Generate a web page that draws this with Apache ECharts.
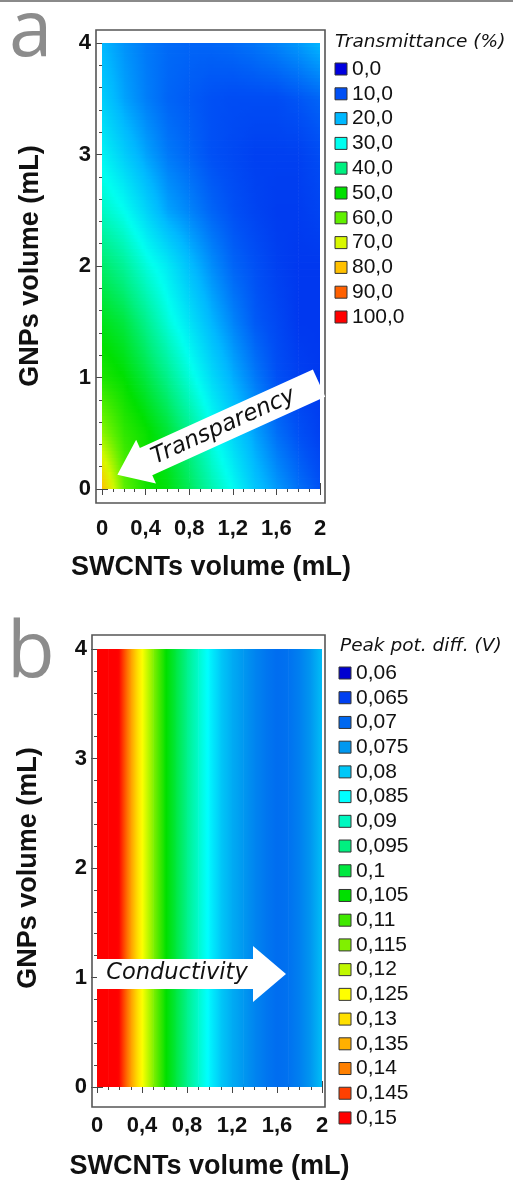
<!DOCTYPE html>
<html><head><meta charset="utf-8">
<script src="https://cdn.jsdelivr.net/npm/echarts@6/dist/echarts.min.js"></script>
<style>html,body{margin:0;padding:0;background:#fff;}#c{width:513px;height:1181px;}</style>
</head><body><div id="c"></div>
<script>
// ---------------- DATA ----------------
// Panel a: Transmittance (%) sampled on a grid (rows: GNPs volume, cols: SWCNTs volume)
const swcntA = [0, 0.2, 0.4, 0.6, 0.8, 1.0, 1.2, 1.4, 1.6, 1.8, 2.0];
const gnpA = [0, 0.5, 1, 1.5, 2, 2.5, 3, 3.5, 4];
const transmittance = [
  [80, 60, 52, 49, 43, 36, 29.5, 22, 17, 13, 10],      // GNPs 0
  [64, 55, 51, 46, 39, 31, 24, 18, 13, 10, 8],          // 0.5
  [53, 50, 45, 39, 32, 25, 19, 14, 10, 8, 7],           // 1
  [48, 45, 39, 32, 26, 20, 15, 11, 9, 7, 7],            // 1.5
  [42, 38, 32, 27, 21, 16, 12, 10, 8, 7, 7],            // 2
  [34, 30, 24, 18, 15, 12, 10, 8.5, 7.5, 7.5, 8.5],     // 2.5
  [28.5, 23, 18, 14, 12, 10, 9, 8, 8, 8, 9.5],          // 3
  [23, 18, 14.5, 12, 11, 10, 9.5, 9.5, 9.5, 10.5, 12],  // 3.5
  [20, 16.5, 14, 12.5, 12, 12, 12.5, 13.5, 15, 17, 20]  // 4
];
// Panel b: Peak potential difference (V), varies with SWCNTs volume only
const swcntB = [0, 0.1, 0.2, 0.3, 0.4, 0.5, 0.6, 0.7, 0.8, 0.9, 1.0, 1.1, 1.2, 1.3, 1.4, 1.5, 1.6, 1.7, 1.8, 1.9, 2.0];
const gnpB = [0, 4];
const peakDiff = [0.156, 0.154, 0.149, 0.137, 0.125, 0.115, 0.106, 0.100, 0.094, 0.089, 0.084, 0.080, 0.077, 0.075, 0.073, 0.0715, 0.0705, 0.071, 0.0725, 0.075, 0.079];

// Legends
const legendAValues = [0, 10, 20, 30, 40, 50, 60, 70, 80, 90, 100];
const legendALabels = ['0,0', '10,0', '20,0', '30,0', '40,0', '50,0', '60,0', '70,0', '80,0', '90,0', '100,0'];
const legendAColors = ['#0000e0', '#0050f5', '#00b8ff', '#00fff0', '#00f080', '#00e000', '#60f000', '#d8f800', '#ffc000', '#ff6000', '#ff0000'];
const legendBValues = [0.06, 0.065, 0.07, 0.075, 0.08, 0.085, 0.09, 0.095, 0.1, 0.105, 0.11, 0.115, 0.12, 0.125, 0.13, 0.135, 0.14, 0.145, 0.15];
const legendBLabels = ['0,06', '0,065', '0,07', '0,075', '0,08', '0,085', '0,09', '0,095', '0,1', '0,105', '0,11', '0,115', '0,12', '0,125', '0,13', '0,135', '0,14', '0,145', '0,15'];
const legendBColors = ['#0000d0', '#0040f0', '#0068f0', '#0098f0', '#00c8f8', '#00ffff', '#00f8c0', '#00f080', '#00e840', '#00e000', '#40e800', '#80f000', '#c0f800', '#ffff00', '#ffe000', '#ffb000', '#ff8000', '#ff4000', '#ff0000'];

// Axis ticks / titles
const xTickLabels = ['0', '0,4', '0,8', '1,2', '1,6', '2'];
const yTickLabels = ['0', '1', '2', '3', '4'];
const xTitle = 'SWCNTs volume (mL)';
const yTitle = 'GNPs volume (mL)';

// ---------------- helpers ----------------
function colorAt(v, vals, cols) {
  if (v <= vals[0]) return cols[0];
  for (let k = 1; k < vals.length; k++) {
    if (v <= vals[k]) {
      const t = (v - vals[k - 1]) / (vals[k] - vals[k - 1]);
      return echarts.color.lerp(t, [cols[k - 1], cols[k]]);
    }
  }
  return cols[cols.length - 1];
}
const colA = v => colorAt(v, legendAValues, legendAColors);
const colB = v => colorAt(v, legendBValues, legendBColors);
function grad(vl, vr, cf) {
  const stops = [];
  const M = 6;
  for (let m = 0; m <= M; m++) {
    const f = m / M;
    stops.push({ offset: f, color: cf(vl + (vr - vl) * f) });
  }
  return { type: 'linear', x: 0, y: 0, x2: 1, y2: 0, colorStops: stops };
}

const cellsA = [];
for (let j = 0; j < gnpA.length - 1; j++)
  for (let i = 0; i < swcntA.length - 1; i++)
    cellsA.push([swcntA[i], gnpA[j], swcntA[i + 1], gnpA[j + 1], i, j]);
const cellsB = [];
for (let i = 0; i < swcntB.length - 1; i++)
  cellsB.push([swcntB[i], gnpB[0], swcntB[i + 1], gnpB[1], i]);

function renderA(params, api) {
  const i = api.value(4), j = api.value(5);
  const v00 = transmittance[j][i], v10 = transmittance[j][i + 1];
  const v01 = transmittance[j + 1][i], v11 = transmittance[j + 1][i + 1];
  const p0 = api.coord([api.value(0), api.value(1)]);
  const p1 = api.coord([api.value(2), api.value(3)]);
  const x0 = p0[0], x1 = p1[0], yb = p0[1], yt = p1[1];
  const N = 16, H = (yb - yt) / N;
  const children = [];
  for (let s = 0; s < N; s++) {
    const t = (s + 0.5) / N;
    const vl = v00 + (v01 - v00) * t, vr = v10 + (v11 - v10) * t;
    children.push({
      type: 'rect',
      shape: { x: x0, y: yb - H * (s + 1) - 0.4, width: x1 - x0 + 0.6, height: H + 0.8 },
      style: { fill: grad(vl, vr, colA) }
    });
  }
  return { type: 'group', children };
}
function renderB(params, api) {
  const i = api.value(4);
  const p0 = api.coord([api.value(0), api.value(1)]);
  const p1 = api.coord([api.value(2), api.value(3)]);
  return {
    type: 'rect',
    shape: { x: p0[0], y: p1[1], width: p1[0] - p0[0] + 0.6, height: p0[1] - p1[1] },
    style: { fill: grad(peakDiff[i], peakDiff[i + 1], colB) }
  };
}

// ---------------- layout ----------------
const FONT = "'Liberation Sans', Arial, sans-serif";
const HAND = "'DejaVu Sans', sans-serif";
const AX = '#454545';
const gridA = { left: 102, top: 43, width: 218, height: 446 };
const gridB = { left: 97, top: 649, width: 225, height: 444 };
const offA = { b: 14, t: 13, l: 6, r: 5 };
const offB = { b: 14, t: 14, l: 5, r: 3 };

const tick = { show: true, inside: true, length: 6, lineStyle: { color: AX, width: 1 } };
function minor(n) { return { show: true, splitNumber: n, length: 3, lineStyle: { color: AX, width: 1 } }; }
const titleStyle = { fontFamily: FONT, fontWeight: 'bold', fontSize: 27, color: '#111' };
const tickLabelStyle = { fontFamily: FONT, fontWeight: 'bold', fontSize: 22, color: '#111' };

function xAxesFor(gi, off, gap, lm) {
  return [
    { gridIndex: gi, type: 'value', min: 0, max: 2, interval: 0.4, position: 'bottom', offset: off.b,
      name: xTitle, nameLocation: 'middle', nameGap: gap, nameTextStyle: titleStyle,
      axisLine: { show: false }, axisTick: tick, minorTick: minor(4),
      splitLine: { show: false }, minorSplitLine: { show: false },
      axisLabel: Object.assign({ formatter: (v, idx) => xTickLabels[idx], margin: lm }, tickLabelStyle) },
    { gridIndex: gi, type: 'value', min: 0, max: 2, interval: 0.4, position: 'top', offset: off.t,
      axisLine: { show: false }, axisTick: tick, minorTick: minor(4),
      splitLine: { show: false }, axisLabel: { show: false } }
  ];
}
function yAxesFor(gi, off, gap) {
  return [
    { gridIndex: gi, type: 'value', min: 0, max: 4, interval: 1, position: 'left', offset: off.l,
      name: yTitle, nameLocation: 'middle', nameGap: gap, nameRotate: 90, nameTextStyle: titleStyle,
      axisLine: { show: false }, axisTick: tick, minorTick: minor(5),
      splitLine: { show: false }, minorSplitLine: { show: false },
      axisLabel: Object.assign({ formatter: (v, idx) => yTickLabels[idx], margin: 5 }, tickLabelStyle) },
    { gridIndex: gi, type: 'value', min: 0, max: 4, interval: 1, position: 'right', offset: off.r,
      axisLine: { show: false }, axisTick: tick, minorTick: minor(5),
      splitLine: { show: false }, axisLabel: { show: false } }
  ];
}

function frame(g, off) {
  return { type: 'rect', silent: true, z: 10,
    shape: { x: g.left - off.l, y: g.top - off.t, width: g.width + off.l + off.r, height: g.height + off.t + off.b },
    style: { fill: 'none', stroke: '#555', lineWidth: 1.6 } };
}
function legend(x, y0, step, title, labels, colors, titleX) {
  const els = [{ type: 'text', x: titleX, y: y0 - 27, silent: true, z: 10,
    style: { text: title, font: 'italic 18.5px ' + HAND, fill: '#111', textVerticalAlign: 'middle' } }];
  labels.forEach((lab, k) => {
    const cy = y0 + step * k;
    els.push({ type: 'rect', silent: true, z: 10, shape: { x: x, y: cy - 6, width: 12, height: 12 },
      style: { fill: colors[k], stroke: '#333', lineWidth: 1 } });
    els.push({ type: 'text', silent: true, z: 10, x: x + 17, y: cy,
      style: { text: lab, font: '21px ' + FONT, fill: '#111', textVerticalAlign: 'middle' } });
  });
  return els;
}

const graphics = [
  { type: 'line', silent: true, z: 10, shape: { x1: 0, y1: 1, x2: 513, y2: 1 }, style: { stroke: '#8a8a8a', lineWidth: 2 } },
  { type: 'text', silent: true, z: 10, x: 9, y: -5, style: { text: 'a', font: '78px "Open Sans", sans-serif', fill: '#8c8c8c' } },
  { type: 'text', silent: true, z: 10, x: 7, y: 616, style: { text: 'b', font: '78px "Open Sans", sans-serif', fill: '#8c8c8c' } },
  frame(gridA, offA), frame(gridB, offB),
  // Transparency arrow
  { type: 'group', x: 218, y: 429, rotation: 0.426, silent: true, children: [
    { type: 'polygon', z: 50, shape: { points: [[-110.5, 0], [-79, -24], [-79, -15], [111, -15], [111, 15], [-79, 15], [-79, 24]] },
      style: { fill: '#ffffff' } },
    { type: 'text', z: 51, x: 6, y: 0, style: { text: 'Transparency', font: 'italic 23px ' + HAND, fill: '#111', textAlign: 'center', textVerticalAlign: 'middle' } }
  ] },
  // Conductivity arrow
  { type: 'group', x: 0, y: 0, silent: true, children: [
    { type: 'polygon', z: 50, shape: { points: [[97, 959], [253, 959], [253, 946], [286, 974], [253, 1002], [253, 989], [97, 989]] },
      style: { fill: '#ffffff' } },
    { type: 'text', z: 51, x: 177, y: 973, style: { text: 'Conductivity', font: 'italic 22.5px ' + HAND, fill: '#111', textAlign: 'center', textVerticalAlign: 'middle' } }
  ] }
].concat(
  legend(335, 69, 24.8, 'Transmittance (%)', legendALabels, legendAColors, 335),
  legend(339, 673, 24.72, 'Peak pot. diff. (V)', legendBLabels, legendBColors, 340)
);

const option = {
  animation: false,
  backgroundColor: '#ffffff',
  grid: [gridA, gridB],
  xAxis: xAxesFor(0, offA, 51, 15).concat(xAxesFor(1, offB, 52, 14)),
  yAxis: yAxesFor(0, offA, 52).concat(yAxesFor(1, offB, 50)),
  series: [
    { type: 'custom', name: 'Transmittance', xAxisIndex: 0, yAxisIndex: 0, clip: true, silent: true, z: 2,
      encode: { x: [0, 2], y: [1, 3] }, data: cellsA, renderItem: renderA },
    { type: 'custom', name: 'Peak pot. diff.', xAxisIndex: 2, yAxisIndex: 2, clip: true, silent: true, z: 2,
      encode: { x: [0, 2], y: [1, 3] }, data: cellsB, renderItem: renderB }
  ],
  graphic: graphics
};
const chart = echarts.init(document.getElementById('c'));
chart.setOption(option);
</script>
</body></html>
